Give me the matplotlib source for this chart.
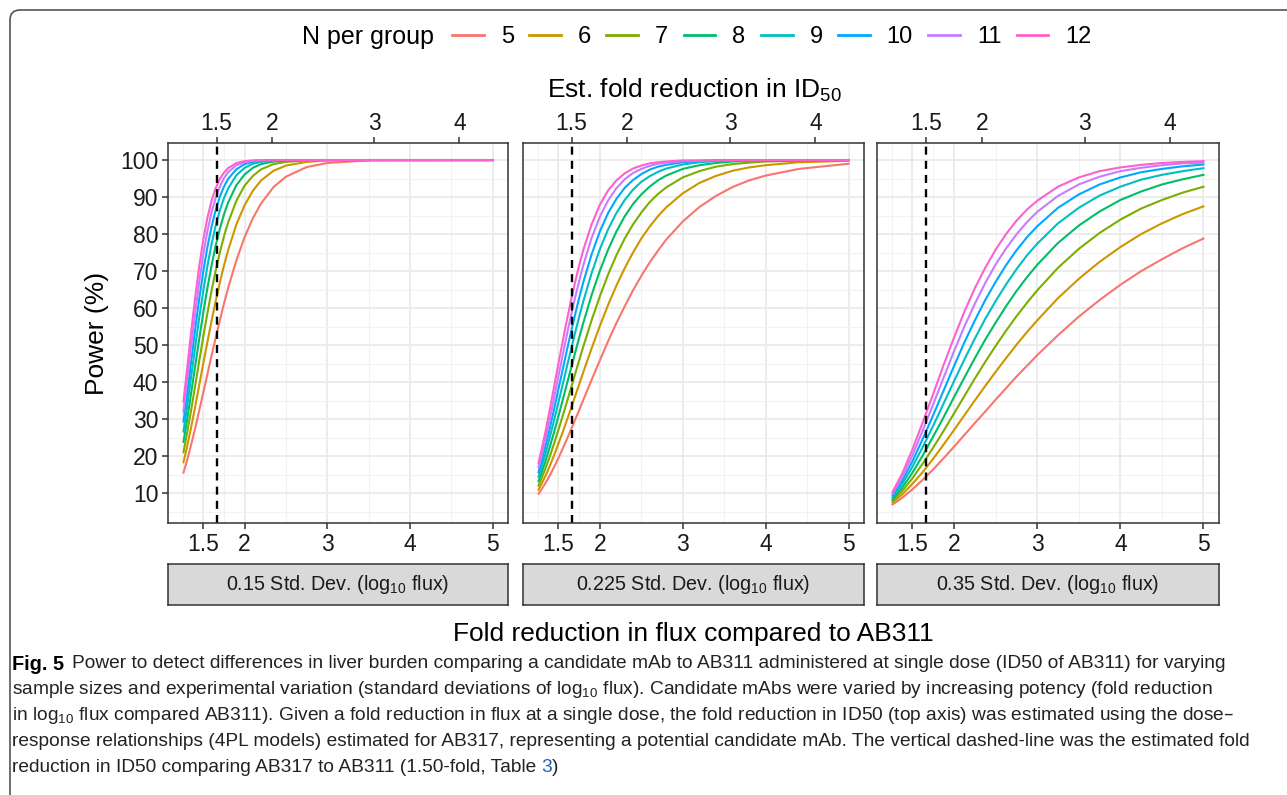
import matplotlib
matplotlib.use('Agg')
import matplotlib.pyplot as plt
from matplotlib.lines import Line2D
from matplotlib.path import Path
from matplotlib.patches import PathPatch

plt.rcParams['font.family'] = ['Liberation Sans', 'DejaVu Sans']
plt.rcParams['mathtext.default'] = 'regular'

# ---- data ----
n_groups = [5, 6, 7, 8, 9, 10, 11, 12]
colors = ['#F8766D', '#CD9600', '#7CAE00', '#00BE67',
          '#00BFC4', '#00A9FF', '#C77CFF', '#FF61CC']
sd_labels = ['0.15', '0.225', '0.35']

# panel 1: SD 0.15
fold_sd015 = [1.26, 1.3, 1.35, 1.4, 1.45, 1.5, 1.55, 1.6, 1.65, 1.7, 1.75, 1.8, 1.9, 2.0,
              2.1, 2.2, 2.35, 2.5, 2.75, 3.0, 3.5, 5.0]
power_sd015 = {
    5:  [15.6, 18.6, 22.9, 27.4, 32.3, 37.2, 42.2, 47.2, 52.0, 56.7, 61.2, 65.4, 72.9, 79.2,
         84.3, 88.3, 92.7, 95.5, 98.1, 99.2, 99.9, 100],
    6:  [18.4, 22.2, 27.5, 33.2, 39.1, 45.1, 50.9, 56.6, 61.9, 66.9, 71.5, 75.6, 82.6, 87.8,
         91.7, 94.5, 97.1, 98.5, 99.5, 99.9, 100, 100],
    7:  [21.1, 25.8, 32.1, 38.8, 45.6, 52.3, 58.7, 64.7, 70.1, 75.0, 79.4, 83.1, 89.0, 93.1,
         95.7, 97.5, 98.9, 99.5, 99.9, 100, 100, 100],
    8:  [23.9, 29.3, 36.6, 44.1, 51.6, 58.8, 65.5, 71.5, 76.9, 81.4, 85.3, 88.5, 93.2, 96.1,
         97.9, 98.9, 99.6, 99.8, 100, 100, 100, 100],
    9:  [26.7, 32.8, 41.0, 49.2, 57.3, 64.7, 71.4, 77.3, 82.3, 86.4, 89.7, 92.3, 95.9, 97.9,
         99.0, 99.5, 99.8, 99.9, 100, 100, 100, 100],
    10: [29.4, 36.2, 45.1, 54.0, 62.4, 69.9, 76.5, 82.0, 86.5, 90.1, 92.8, 94.9, 97.5, 98.9,
         99.5, 99.8, 99.9, 100, 100, 100, 100, 100],
    11: [32.1, 39.6, 49.2, 58.4, 67.0, 74.5, 80.8, 85.9, 89.8, 92.8, 95.1, 96.7, 98.6, 99.4,
         99.8, 99.9, 100, 100, 100, 100, 100, 100],
    12: [34.8, 42.8, 53.0, 62.6, 71.2, 78.5, 84.4, 89.0, 92.4, 94.9, 96.6, 97.8, 99.2, 99.7,
         99.9, 100, 100, 100, 100, 100, 100, 100],
}

# panel 2: SD 0.225
fold_sd0225 = [1.26, 1.3, 1.35, 1.4, 1.45, 1.5, 1.55, 1.6, 1.65, 1.7, 1.75, 1.8, 1.9, 2.0, 2.1,
               2.2, 2.3, 2.4, 2.5, 2.6, 2.7, 2.8, 3.0, 3.2, 3.4, 3.6, 3.8, 4.0, 4.4, 5.0]
power_sd0225 = {
    5:  [9.9, 11.2, 13.0, 15.0, 17.2, 19.5, 22.0, 24.5, 27.1, 29.8, 32.4, 35.2, 40.6, 45.9, 51.1,
         56.0, 60.5, 64.8, 68.7, 72.3, 75.5, 78.5, 83.4, 87.3, 90.3, 92.7, 94.5, 95.8, 97.6, 99.0],
    6:  [11.0, 12.7, 15.0, 17.6, 20.4, 23.4, 26.4, 29.6, 32.8, 36.1, 39.4, 42.7, 49.1, 55.2, 60.9,
         66.1, 70.8, 75.0, 78.8, 82.0, 84.8, 87.2, 91.0, 93.8, 95.7, 97.1, 98.0, 98.6, 99.4, 99.8],
    7:  [12.1, 14.2, 17.1, 20.2, 23.6, 27.1, 30.8, 34.5, 38.3, 42.1, 45.9, 49.6, 56.7, 63.2, 69.1,
         74.3, 78.8, 82.6, 85.8, 88.6, 90.8, 92.6, 95.3, 97.0, 98.2, 98.9, 99.3, 99.6, 99.8, 100],
    8:  [13.3, 15.7, 19.1, 22.8, 26.7, 30.8, 35.0, 39.3, 43.6, 47.8, 52.0, 56.0, 63.5, 70.1, 75.8,
         80.7, 84.8, 88.1, 90.7, 92.8, 94.5, 95.8, 97.6, 98.6, 99.2, 99.6, 99.8, 99.9, 99.9, 100],
    9:  [14.5, 17.3, 21.2, 25.4, 29.9, 34.5, 39.2, 44.0, 48.6, 53.2, 57.6, 61.8, 69.4, 75.9, 81.3,
         85.7, 89.2, 92.0, 94.1, 95.6, 96.8, 97.7, 98.8, 99.4, 99.7, 99.8, 99.9, 100, 100, 100],
    10: [15.7, 18.8, 23.3, 27.9, 32.9, 38.1, 43.2, 48.4, 53.4, 58.1, 62.7, 67.0, 74.5, 80.7, 85.7,
         89.5, 92.5, 94.6, 96.2, 97.4, 98.2, 98.7, 99.4, 99.7, 99.9, 99.9, 100, 100, 100, 100],
    11: [17.0, 20.5, 25.3, 30.5, 36.0, 41.6, 47.1, 52.6, 57.8, 62.7, 67.3, 71.6, 78.9, 84.7, 89.1,
         92.4, 94.8, 96.5, 97.6, 98.4, 99.0, 99.3, 99.7, 99.8, 99.9, 100, 100, 100, 100, 100],
    12: [18.2, 22.1, 27.3, 33.1, 39.0, 45.0, 50.8, 56.5, 61.9, 66.9, 71.5, 75.7, 82.6, 87.9, 91.8,
         94.5, 96.4, 97.7, 98.5, 99.1, 99.4, 99.6, 99.9, 99.9, 100, 100, 100, 100, 100, 100],
}

# panel 3: SD 0.35
fold_sd035 = [1.26, 1.375, 1.5, 1.625, 1.75, 1.875, 2.0, 2.125, 2.25, 2.375, 2.5, 2.625,
              2.75, 2.875, 3.0, 3.25, 3.5, 3.75, 4.0, 4.25, 4.5, 4.75, 5.0]
power_sd035 = {
    5:  [7.0, 8.8, 11.1, 13.7, 16.5, 19.5, 22.6, 25.8, 29.0, 32.1, 35.3, 38.4,
         41.5, 44.4, 47.3, 52.7, 57.7, 62.2, 66.3, 70.0, 73.2, 76.2, 78.8],
    6:  [7.5, 9.7, 12.6, 15.8, 19.4, 23.2, 27.1, 31.1, 35.1, 39.0, 42.8, 46.5,
         50.1, 53.5, 56.7, 62.7, 67.9, 72.5, 76.5, 80.0, 82.9, 85.4, 87.5],
    7:  [8.0, 10.6, 14.1, 18.1, 22.4, 26.9, 31.6, 36.3, 41.0, 45.5, 49.8, 53.9,
         57.8, 61.4, 64.8, 70.9, 76.0, 80.3, 83.9, 86.9, 89.2, 91.2, 92.8],
    8:  [8.4, 11.5, 15.6, 20.3, 25.4, 30.6, 36.0, 41.3, 46.5, 51.5, 56.1, 60.5,
         64.6, 68.3, 71.7, 77.6, 82.3, 86.1, 89.2, 91.5, 93.4, 94.8, 96.0],
    9:  [8.9, 12.5, 17.2, 22.6, 28.3, 34.3, 40.3, 46.2, 51.8, 57.1, 61.9, 66.4,
         70.5, 74.2, 77.4, 82.9, 87.1, 90.4, 92.8, 94.7, 96.0, 97.0, 97.8],
    10: [9.4, 13.4, 18.7, 24.8, 31.2, 37.8, 44.4, 50.8, 56.7, 62.2, 67.1, 71.6,
         75.6, 79.1, 82.1, 87.1, 90.7, 93.4, 95.3, 96.7, 97.6, 98.3, 98.8],
    11: [9.9, 14.4, 20.3, 27.1, 34.1, 41.3, 48.4, 55.1, 61.2, 66.8, 71.8, 76.1,
         79.9, 83.2, 86.0, 90.3, 93.4, 95.5, 97.0, 97.9, 98.6, 99.1, 99.3],
    12: [10.4, 15.3, 21.9, 29.3, 36.9, 44.7, 52.1, 59.1, 65.4, 70.9, 75.8, 80.0,
         83.6, 86.6, 89.0, 92.8, 95.3, 97.0, 98.0, 98.7, 99.2, 99.5, 99.7],
}

# top axis: estimated fold reduction in ID50, placed on the flux scale
id50_labels = ['1.5', '2', '3', '4']
id50_on_flux = [1.66, 2.333, 3.57, 4.60]
dashed_flux = 1.66  # = 1.50-fold ID50 reduction

x_ticks = [1.5, 2, 3, 4, 5]
x_minor = [1.25, 1.75, 2.5, 3.5, 4.5]
y_ticks = list(range(10, 101, 10))
y_minor = list(range(5, 100, 10))

panels = [(fold_sd015, power_sd015), (fold_sd0225, power_sd0225), (fold_sd035, power_sd035)]

# ---- layout (pixels of a 1287x795 canvas) ----
W, H = 1287, 795
fig = plt.figure(figsize=(W / 100, H / 100), dpi=100)


def box(x0, y0, x1, y1):
    return [x0 / W, 1 - y1 / H, (x1 - x0) / W, (y1 - y0) / H]


panel_x = [(168, 508), (523, 864), (877, 1219)]
frame = '#333333'
handles = []

for i, ((fold, power), (l, r)) in enumerate(zip(panels, panel_x)):
    ax = fig.add_axes(box(l, 143, r, 523))
    ax.set_xlim(1.073, 5.187)
    ax.set_ylim(2.0, 104.6)
    ax.set_xticks(x_ticks, ['1.5', '2', '3', '4', '5'])
    ax.set_xticks(x_minor, minor=True)
    ax.set_yticks(y_ticks)
    ax.set_yticks(y_minor, minor=True)
    ax.grid(which='major', color='#EBEBEB', lw=1.3)
    ax.grid(which='minor', color='#F2F2F2', lw=0.8)
    ax.set_axisbelow(True)
    for n, c in zip(n_groups, colors):
        ax.plot(fold, power[n], color=c, lw=1.5, solid_joinstyle='round')
        if i == 0:
            handles.append(Line2D([], [], color=c, lw=2.0))
    ax.axvline(dashed_flux, color='black', lw=1.7, ls=(0, (3.4, 2.6)))
    for s in ax.spines.values():
        s.set_color(frame)
        s.set_linewidth(1.1)
    ax.tick_params(which='both', length=0, axis='both')
    ax.tick_params(which='major', length=4, width=1.1, color=frame,
                   labelsize=16.5, labelcolor='#1A1A1A', pad=3)
    if i > 0:
        ax.tick_params(axis='y', which='both', left=False, labelleft=False)

    top = ax.secondary_xaxis('top')
    top.set_xticks(id50_on_flux, id50_labels)
    top.tick_params(length=4, width=1.1, color=frame, labelsize=16.5,
                    labelcolor='#1A1A1A', pad=2)
    top.spines['top'].set_visible(False)

    strip = fig.add_axes(box(l, 564, r, 605))
    strip.set_facecolor('#D9D9D9')
    strip.set_xticks([])
    strip.set_yticks([])
    for s in strip.spines.values():
        s.set_color(frame)
        s.set_linewidth(1.1)
    strip.text(0.5, 0.5, sd_labels[i] + ' Std. Dev. (log$_{10}$ flux)',
               ha='center', va='center', fontsize=14.2, color='#1A1A1A',
               transform=strip.transAxes)

# axis titles
fig.text(694 / W, 1 - 90 / H, 'Est. fold reduction in ID$_{50}$',
         ha='center', va='center', fontsize=19)
fig.text(693 / W, 1 - 634 / H, 'Fold reduction in flux compared to AB311',
         ha='center', va='center', fontsize=19)
fig.text(97 / W, 1 - 333 / H, 'Power (%)', rotation=90,
         ha='center', va='center', fontsize=19)

# legend
fig.text(302 / W, 1 - 37 / H, 'N per group', ha='left', va='center', fontsize=18)
fig.legend(handles, [str(n) for n in n_groups], ncol=8, loc='center left',
           bbox_to_anchor=(452 / W, 1 - 37 / H), frameon=False, fontsize=17,
           handlelength=1.35, handletextpad=0.72, columnspacing=0.64,
           borderpad=0, borderaxespad=0)

# caption
cap_size = 13.75
cap_x = 12 / W
cap_y = [664, 689, 715, 741, 768]
renderer = fig.canvas.get_renderer()

t = fig.text(cap_x, 1 - cap_y[0] / H, 'Fig. 5', weight='bold', fontsize=cap_size + 0.6, va='center')
w = t.get_window_extent(renderer).width / W
fig.text(cap_x + w + 8 / W, 1 - cap_y[0] / H,
         'Power to detect differences in liver burden comparing a candidate mAb to AB311 '
         'administered at single dose (ID50 of AB311) for varying',
         fontsize=cap_size, va='center', color='#222222')
rest = [
    'sample sizes and experimental variation (standard deviations of log$_{10}$ flux). '
    'Candidate mAbs were varied by increasing potency (fold reduction',
    'in log$_{10}$ flux compared AB311). Given a fold reduction in flux at a single dose, '
    'the fold reduction in ID50 (top axis) was estimated using the dose\u2013',
    'response relationships (4PL models) estimated for AB317, representing a potential '
    'candidate mAb. The vertical dashed-line was the estimated fold',
]
for line, y in zip(rest, cap_y[1:4]):
    fig.text(cap_x, 1 - y / H, line, fontsize=cap_size, va='center', color='#222222')

t = fig.text(cap_x, 1 - cap_y[4] / H,
             'reduction in ID50 comparing AB317 to AB311 (1.50-fold, Table ',
             fontsize=cap_size, va='center', color='#222222')
w = t.get_window_extent(renderer).width / W
t2 = fig.text(cap_x + w, 1 - cap_y[4] / H, '3', fontsize=cap_size, va='center', color='#1F5FBF')
w2 = t2.get_window_extent(renderer).width / W
fig.text(cap_x + w + w2, 1 - cap_y[4] / H, ')', fontsize=cap_size, va='center', color='#222222')

# outer frame: left and top edges with a rounded corner
verts = [(10, H), (10, 20), (10, 10), (20, 10), (W, 10)]
codes = [Path.MOVETO, Path.LINETO, Path.CURVE3, Path.CURVE3, Path.LINETO]
frame_path = Path([(x / W, 1 - y / H) for x, y in verts], codes)
fig.patches.append(PathPatch(frame_path, transform=fig.transFigure, fill=False,
                             edgecolor='#555555', lw=1.2))

fig.savefig('out.png', dpi=100)
